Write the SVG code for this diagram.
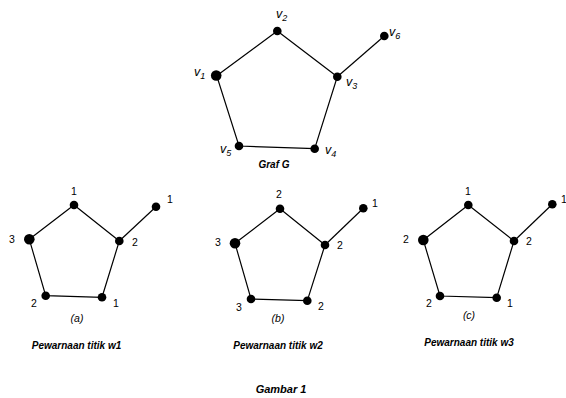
<svg xmlns="http://www.w3.org/2000/svg" width="566" height="398" viewBox="0 0 566 398">
<style>
.e{stroke:#000;stroke-width:1.2;fill:none}
.n{fill:#000}
.t{font-family:"Liberation Sans",Arial,sans-serif;font-size:10.5px;fill:#000}
.v{font-family:"Liberation Sans",Arial,sans-serif;font-size:12.5px;font-style:italic;fill:#000}
.s{font-size:9px}
.c{font-family:"Liberation Sans",Arial,sans-serif;font-size:10px;font-style:italic;font-weight:bold;fill:#000;text-anchor:middle}
.p{font-family:"Liberation Sans",Arial,sans-serif;font-size:10.5px;font-style:italic;fill:#000;text-anchor:middle}
</style>
<rect width="566" height="398" fill="#fff"/>
<g id="connectors">
<polyline class="e" points="277.3,31 337.3,76.7 314.7,148.7 239,146 216.7,75.7 277.3,31"/>
<line class="e" x1="337.3" y1="76.7" x2="384.3" y2="36"/>
<polyline class="e" points="74,205 119.3,241 102,297.3 45.7,295.7 29.3,239.3 74,205"/>
<line class="e" x1="119.3" y1="241" x2="156" y2="206.7"/>
<polyline class="e" points="280,208.7 325,245 307.3,300.7 251,299 235,243.3 280,208.7"/>
<line class="e" x1="325" y1="245" x2="363.3" y2="208.3"/>
<polyline class="e" points="468.3,205 514,241 496.7,297.7 440,296 423.3,240 468.3,205"/>
<line class="e" x1="514" y1="241" x2="552.3" y2="204.3"/>
</g>
<g id="graphG">
<circle class="n" cx="277.3" cy="31" r="4.3"/>
<circle class="n" cx="216.2" cy="75.5" r="5.3"/>
<circle class="n" cx="337.3" cy="76.7" r="4.3"/>
<circle class="n" cx="384.3" cy="36" r="4.3"/>
<circle class="n" cx="239" cy="146" r="4.3"/>
<circle class="n" cx="314.7" cy="148.7" r="4.3"/>
<text class="v" x="276" y="18">v<tspan class="s" dy="3">2</tspan></text>
<text class="v" x="389" y="36">v<tspan class="s" dy="3">6</tspan></text>
<text class="v" x="194" y="76">v<tspan class="s" dy="3">1</tspan></text>
<text class="v" x="346" y="86">v<tspan class="s" dy="3">3</tspan></text>
<text class="v" x="220" y="153">v<tspan class="s" dy="3">5</tspan></text>
<text class="v" x="325" y="154">v<tspan class="s" dy="3">4</tspan></text>
<text class="c" x="274" y="168">Graf G</text>
</g>
<g id="graphA">
<circle class="n" cx="74" cy="205" r="4.3"/>
<circle class="n" cx="29.3" cy="239.3" r="5.3"/>
<circle class="n" cx="119.3" cy="241" r="4.3"/>
<circle class="n" cx="156" cy="206.7" r="4.3"/>
<circle class="n" cx="45.7" cy="295.7" r="4.3"/>
<circle class="n" cx="102" cy="297.3" r="4.3"/>
<text class="t" x="71" y="195">1</text>
<text class="t" x="167" y="203">1</text>
<text class="t" x="9" y="243">3</text>
<text class="t" x="132" y="246">2</text>
<text class="t" x="31" y="307">2</text>
<text class="t" x="113" y="307">1</text>
<text class="p" x="77" y="322">(a)</text>
<text class="c" x="76.5" y="349">Pewarnaan titik w1</text>
</g>
<g id="graphB">
<circle class="n" cx="280" cy="208.7" r="4.3"/>
<circle class="n" cx="235" cy="243.3" r="5.3"/>
<circle class="n" cx="325" cy="245" r="4.3"/>
<circle class="n" cx="363.3" cy="208.3" r="4.3"/>
<circle class="n" cx="251" cy="299" r="4.3"/>
<circle class="n" cx="307.3" cy="300.7" r="4.3"/>
<text class="t" x="276" y="198">2</text>
<text class="t" x="372" y="207">1</text>
<text class="t" x="215" y="246">3</text>
<text class="t" x="337" y="249">2</text>
<text class="t" x="236" y="311">3</text>
<text class="t" x="318" y="310">2</text>
<text class="p" x="278" y="322">(b)</text>
<text class="c" x="278" y="349">Pewarnaan titik w2</text>
</g>
<g id="graphC">
<circle class="n" cx="468.3" cy="205" r="4.3"/>
<circle class="n" cx="423.3" cy="240" r="5.3"/>
<circle class="n" cx="514" cy="241" r="4.3"/>
<circle class="n" cx="552.3" cy="204.3" r="4.3"/>
<circle class="n" cx="440" cy="296" r="4.3"/>
<circle class="n" cx="496.7" cy="297.7" r="4.3"/>
<text class="t" x="465" y="195">1</text>
<text class="t" x="561" y="203">1</text>
<text class="t" x="403" y="243">2</text>
<text class="t" x="526" y="245">2</text>
<text class="t" x="426" y="307">2</text>
<text class="t" x="507" y="307">1</text>
<text class="p" x="469" y="319">(c)</text>
<text class="c" x="469" y="346">Pewarnaan titik w3</text>
</g>
<text class="c" x="281" y="393" style="font-size:11px">Gambar 1</text>
</svg>
